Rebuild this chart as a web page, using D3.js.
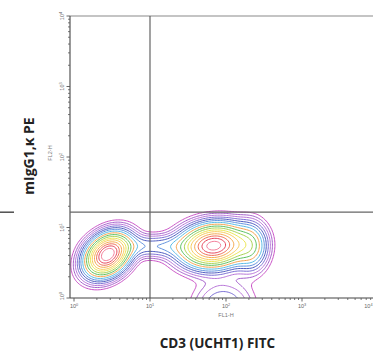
<!DOCTYPE html>
<html>
<head>
<meta charset="utf-8">
<script src="https://cdn.jsdelivr.net/npm/d3@7"></script>
<style>
  body { margin: 0; background: #fff; }
  svg { display: block; }
  .tick-label { font-family: "Liberation Sans", sans-serif; font-size: 5.5px; fill: #666; }
  .axis-title { font-family: "Open Sans", sans-serif; font-weight: 700; font-size: 13.5px; fill: #222; }
  .param-name { font-family: "Liberation Sans", sans-serif; font-size: 5.5px; fill: #777; }
</style>
</head>
<body>
<div id="chart"></div>
<script>
// axes (log decades)
const decades = [1, 10, 100, 1000, 10000];
const decadeExp = [0, 1, 2, 3, 4];
const xTitle = 'CD3 (UCHT1) FITC';
const yTitle = 'mIgG1,\u03BA PE';
const xParam = 'FL1-H';
const yParam = 'FL2-H';

// quadrant gate
const gateX = 10;
const gateY = 16.5;

// populations (centre in linear units, spread in decades)
const popName    = ['neg', 'cd3+', 'cd3+ right', 'cd3+ low tail', 'bridge'];
const popCenterX = [2.7,   68,     210,   90,    11];
const popCenterY = [4.0,   5.4,    5.2,   0.75,  5.3];
const popSpreadX = [0.17,  0.25,   0.13,  0.24,  0.36];
const popSpreadY = [0.175, 0.175,  0.2,   0.22,  0.1];
const popCorr    = [0.3,   0.1,    0.0,   0.0,   0.0];
const popWeight  = [1.0,   0.95,   0.22,  0.1,   0.11];

// contour levels (density, peak ~1) and their colours, outer to inner
const levels = [0.018, 0.03, 0.045, 0.065, 0.09, 0.12, 0.16, 0.21, 0.27, 0.34, 0.42, 0.5, 0.6, 0.7, 0.8, 0.9];
const levelColors = ['#c33fbf', '#9b4fc6', '#b067d4', '#6c5fcf', '#3a48b8', '#4f86da',
  '#46b3e3', '#f39a3c', '#48b94c', '#9ccd3f', '#e9e23f', '#f7c548', '#f3a03c', '#ec5f43', '#e2324a', '#f0718e'];

const W = 373, H = 355;
const plot = { left: 70, top: 16, right: 378, bottom: 298 };

const svg = d3.select('#chart').append('svg').attr('width', W).attr('height', H);

const x = d3.scaleLog().domain([1, 10000]).range([74, plot.right]);
const y = d3.scaleLog().domain([1, 10000]).range([plot.bottom, plot.top]);

svg.append('clipPath').attr('id', 'clip')
  .append('rect')
  .attr('x', plot.left).attr('y', plot.top)
  .attr('width', plot.right - plot.left).attr('height', plot.bottom - plot.top);

// density on a grid in log space
const step = 0.02;
const lx0 = -0.4;
const n = Math.round(4.5 / step) + 1;
const values = new Float64Array(n * n);
for (let j = 0; j < n; j++) {
  const ly = lx0 + j * step;
  for (let i = 0; i < n; i++) {
    const lx = lx0 + i * step;
    let v = 0;
    for (let k = 0; k < popName.length; k++) {
      const dx = (lx - Math.log10(popCenterX[k])) / popSpreadX[k];
      const dy = (ly - Math.log10(popCenterY[k])) / popSpreadY[k];
      const r = popCorr[k];
      v += popWeight[k] * Math.exp(-(dx * dx - 2 * r * dx * dy + dy * dy) / (2 * (1 - r * r)));
    }
    values[j * n + i] = v;
  }
}
const contours = d3.contours().size([n, n]).thresholds(levels)(values);

const toScreen = d3.geoTransform({
  point(gx, gy) {
    this.stream.point(x(Math.pow(10, lx0 + gx * step)), y(Math.pow(10, lx0 + gy * step)));
  }
});
const path = d3.geoPath(toScreen);

svg.append('g').attr('clip-path', 'url(#clip)')
  .selectAll('path')
  .data(contours)
  .join('path')
  .attr('d', path)
  .attr('fill', 'none')
  .attr('stroke', (d, i) => levelColors[i])
  .attr('stroke-width', 0.9)
  .attr('stroke-linejoin', 'round');

// frame
svg.append('path')
  .attr('d', `M${plot.left},${plot.top}H${W}`)
  .attr('stroke', '#8a8a8a').attr('stroke-width', 1.2).attr('fill', 'none');

// minor ticks
const minor = [];
decades.slice(0, -1).forEach(d => { for (let m = 2; m <= 9; m++) minor.push(d * m); });

const xAxis = svg.append('g').attr('transform', `translate(0,${plot.bottom})`);
xAxis.append('path').attr('d', `M${plot.left},0H${W}`).attr('stroke', '#444').attr('stroke-width', 1.1);
xAxis.selectAll('line.minor').data(minor).join('line')
  .attr('x1', d => x(d)).attr('x2', d => x(d)).attr('y1', 0).attr('y2', 2)
  .attr('stroke', '#555').attr('stroke-width', 0.8);
xAxis.selectAll('line.major').data(decades).join('line')
  .attr('x1', d => x(d)).attr('x2', d => x(d)).attr('y1', 0).attr('y2', 3.5)
  .attr('stroke', '#555').attr('stroke-width', 0.9);
const xl = xAxis.selectAll('text.tick-label').data(decadeExp).join('text')
  .attr('class', 'tick-label')
  .attr('x', (d, i) => i === decadeExp.length - 1 ? W - 0.5 : x(decades[i]))
  .attr('y', 10)
  .attr('text-anchor', (d, i) => i === decadeExp.length - 1 ? 'end' : 'middle');
xl.append('tspan').text('10');
xl.append('tspan').attr('dy', -2.5).attr('font-size', 3.8).text(d => d);
xAxis.append('text').attr('class', 'param-name')
  .attr('x', x(100)).attr('y', 19).attr('text-anchor', 'middle').text(xParam);

const yAxis = svg.append('g').attr('transform', `translate(${plot.left},0)`);
yAxis.append('path').attr('d', `M0,${plot.top}V${plot.bottom}`).attr('stroke', '#444').attr('stroke-width', 1.1);
yAxis.selectAll('line.minor').data(minor).join('line')
  .attr('y1', d => y(d)).attr('y2', d => y(d)).attr('x1', 0).attr('x2', -2)
  .attr('stroke', '#555').attr('stroke-width', 0.8);
yAxis.selectAll('line.major').data(decades).join('line')
  .attr('y1', d => y(d)).attr('y2', d => y(d)).attr('x1', 0).attr('x2', -3.5)
  .attr('stroke', '#555').attr('stroke-width', 0.9);
const yl = yAxis.selectAll('text.tick-label').data(decadeExp).join('text')
  .attr('class', 'tick-label')
  .attr('transform', (d, i) => `translate(-6,${y(decades[i]) - (i === 0 ? 2 : 0)}) rotate(-90)`)
  .attr('text-anchor', 'middle');
yl.append('tspan').text('10');
yl.append('tspan').attr('dy', -2.5).attr('font-size', 3.8).text(d => d);
yAxis.append('text').attr('class', 'param-name')
  .attr('transform', `translate(-18,${y(100) - 4}) rotate(-90)`)
  .attr('text-anchor', 'middle').text(yParam);

// quadrant gate lines
svg.append('line')
  .attr('x1', x(gateX)).attr('x2', x(gateX)).attr('y1', plot.top).attr('y2', plot.bottom)
  .attr('stroke', '#555').attr('stroke-width', 1.1);
svg.append('line')
  .attr('x1', plot.left).attr('x2', W).attr('y1', y(gateY)).attr('y2', y(gateY))
  .attr('stroke', '#666').attr('stroke-width', 1.3);
// stub of the gate line from the neighbouring panel
svg.append('line')
  .attr('x1', 0).attr('x2', 14).attr('y1', y(gateY)).attr('y2', y(gateY))
  .attr('stroke', '#222').attr('stroke-width', 1.2);

// titles
svg.append('text').attr('class', 'axis-title')
  .attr('x', 217.5).attr('y', 348).attr('text-anchor', 'middle').text(xTitle);
svg.append('text').attr('class', 'axis-title')
  .attr('transform', `translate(34,156) rotate(-90)`)
  .attr('text-anchor', 'middle').style('font-size', '14px').text(yTitle);
</script>
</body>
</html>
